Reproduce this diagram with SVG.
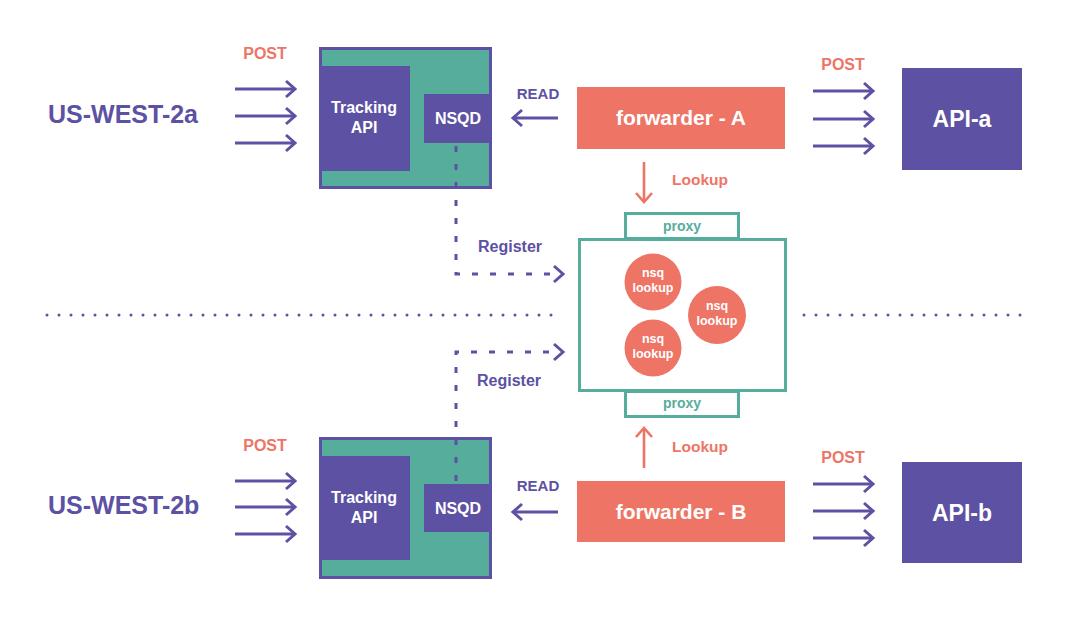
<svg xmlns="http://www.w3.org/2000/svg" width="1080" height="623" viewBox="0 0 1080 623">
<defs>
<style>
.pu{fill:#5d51a3}
.te{fill:#57ad9c}
.sa{fill:#ee7566}
text{font-family:"Liberation Sans",Arial,sans-serif;font-weight:bold}
.wt{fill:#fff}
.tp{fill:#5d51a3}
.ts{fill:#ee7566}
.tt{fill:#57ad9c}
.ap{stroke:#5d51a3;stroke-width:3;fill:none;marker-end:url(#hp)}
.as{stroke:#ee7566;stroke-width:2.6;fill:none;marker-end:url(#hs)}
.dash{stroke:#5d51a3;stroke-width:3;fill:none;stroke-dasharray:6 12;marker-end:url(#hp)}
.dot{stroke:#5d51a3;stroke-width:3;stroke-linecap:round;stroke-dasharray:0 12}
</style>
<marker id="hp" markerUnits="userSpaceOnUse" markerWidth="20" markerHeight="20" refX="14" refY="10" orient="auto">
<polyline points="5,2 14,10 5,18" fill="none" stroke="#5d51a3" stroke-width="3" stroke-dasharray="none"/>
</marker>
<marker id="hs" markerUnits="userSpaceOnUse" markerWidth="20" markerHeight="20" refX="14" refY="10" orient="auto">
<polyline points="5,2 14,10 5,18" fill="none" stroke="#ee7566" stroke-width="2.6" stroke-dasharray="none"/>
</marker>
</defs>
<rect width="1080" height="623" fill="#fff"/>

<g id="separator">
<line class="dot" x1="47" y1="315" x2="563" y2="315"/>
<line class="dot" x1="804" y1="315" x2="1030" y2="315"/>
</g>

<g id="region-a"><text class="tp" x="48" y="123" font-size="25">US-WEST-2a</text></g>
<g id="region-b"><text class="tp" x="48" y="514" font-size="25">US-WEST-2b</text></g>

<g id="tracking-a">
<rect x="320.5" y="48.5" width="170" height="139" class="te" stroke="#5d51a3" stroke-width="3"/>
<rect x="319" y="66" width="91" height="105" class="pu"/>
<text class="wt" x="364" y="113" font-size="16" text-anchor="middle">Tracking</text>
<text class="wt" x="364" y="133" font-size="16" text-anchor="middle">API</text>
</g>
<g id="nsqd-a">
<rect x="424" y="94" width="68" height="49" class="pu"/>
<text class="wt" x="458" y="124" font-size="16" text-anchor="middle">NSQD</text>
</g>

<g id="tracking-b">
<rect x="320.5" y="438.5" width="170" height="139" class="te" stroke="#5d51a3" stroke-width="3"/>
<rect x="319" y="456" width="91" height="104" class="pu"/>
<text class="wt" x="364" y="503" font-size="16" text-anchor="middle">Tracking</text>
<text class="wt" x="364" y="523" font-size="16" text-anchor="middle">API</text>
</g>
<g id="nsqd-b">
<rect x="424" y="484" width="68" height="48" class="pu"/>
<text class="wt" x="458" y="514" font-size="16" text-anchor="middle">NSQD</text>
</g>

<g id="forwarder-a">
<rect x="577" y="87" width="208" height="62" class="sa"/>
<text class="wt" x="681" y="125" font-size="21" text-anchor="middle">forwarder - A</text>
</g>
<g id="forwarder-b">
<rect x="577" y="481" width="208" height="61" class="sa"/>
<text class="wt" x="681" y="519" font-size="21" text-anchor="middle">forwarder - B</text>
</g>

<g id="api-a">
<rect x="902" y="68" width="120" height="102" class="pu"/>
<text class="wt" x="962" y="127" font-size="23" text-anchor="middle">API-a</text>
</g>
<g id="api-b">
<rect x="902" y="462" width="120" height="101" class="pu"/>
<text class="wt" x="962" y="521" font-size="23" text-anchor="middle">API-b</text>
</g>

<g id="nsqlookup-cluster">
<rect x="625.5" y="213.5" width="113" height="25" fill="#fff" stroke="#57ad9c" stroke-width="3"/>
<rect x="625.5" y="391.5" width="113" height="25" fill="#fff" stroke="#57ad9c" stroke-width="3"/>
<rect x="579.5" y="239.5" width="206" height="151" fill="#fff" stroke="#57ad9c" stroke-width="3"/>
<text class="tt" x="682" y="231" font-size="14" text-anchor="middle">proxy</text>
<text class="tt" x="682" y="408" font-size="14" text-anchor="middle">proxy</text>
</g>
<g id="lookup-1">
<circle cx="653" cy="282" r="28.5" class="sa"/>
<text class="wt" x="653" y="277" font-size="12.5" text-anchor="middle">nsq</text>
<text class="wt" x="653" y="292" font-size="12.5" text-anchor="middle">lookup</text>
</g>
<g id="lookup-2">
<circle cx="717" cy="315" r="29" class="sa"/>
<text class="wt" x="717" y="310" font-size="12.5" text-anchor="middle">nsq</text>
<text class="wt" x="717" y="325" font-size="12.5" text-anchor="middle">lookup</text>
</g>
<g id="lookup-3">
<circle cx="653" cy="348" r="28.5" class="sa"/>
<text class="wt" x="653" y="343" font-size="12.5" text-anchor="middle">nsq</text>
<text class="wt" x="653" y="358" font-size="12.5" text-anchor="middle">lookup</text>
</g>

<g id="connectors">
<line class="ap" x1="235" y1="89" x2="295" y2="89"/>
<line class="ap" x1="235" y1="116" x2="295" y2="116"/>
<line class="ap" x1="235" y1="143" x2="295" y2="143"/>
<line class="ap" x1="235" y1="481" x2="295" y2="481"/>
<line class="ap" x1="235" y1="507" x2="295" y2="507"/>
<line class="ap" x1="235" y1="534" x2="295" y2="534"/>
<line class="ap" x1="813" y1="91" x2="873" y2="91"/>
<line class="ap" x1="813" y1="119" x2="873" y2="119"/>
<line class="ap" x1="813" y1="146" x2="873" y2="146"/>
<line class="ap" x1="813" y1="484" x2="873" y2="484"/>
<line class="ap" x1="813" y1="511" x2="873" y2="511"/>
<line class="ap" x1="813" y1="538" x2="873" y2="538"/>
<line class="ap" x1="558" y1="118" x2="513" y2="118"/>
<line class="ap" x1="558" y1="512" x2="513" y2="512"/>
<line class="as" x1="644" y1="162" x2="644" y2="202"/>
<line class="as" x1="644" y1="468" x2="644" y2="428"/>
<path class="dash" d="M456,146 V274 H563" stroke-dasharray="5 13"/>
<path class="dash" d="M456,481 V352 H563" stroke-dasharray="5 13"/>
</g>

<g id="labels">
<text class="ts" x="265" y="59" font-size="16" text-anchor="middle">POST</text>
<text class="ts" x="265" y="451" font-size="16" text-anchor="middle">POST</text>
<text class="ts" x="843" y="70" font-size="16" text-anchor="middle">POST</text>
<text class="ts" x="843" y="463" font-size="16" text-anchor="middle">POST</text>
<text class="tp" x="538" y="99" font-size="15" text-anchor="middle">READ</text>
<text class="tp" x="538" y="491" font-size="15" text-anchor="middle">READ</text>
<text class="ts" x="672" y="185" font-size="15.5">Lookup</text>
<text class="ts" x="672" y="452" font-size="15.5">Lookup</text>
<text class="tp" x="510" y="252" font-size="16" text-anchor="middle">Register</text>
<text class="tp" x="509" y="386" font-size="16" text-anchor="middle">Register</text>
</g>
</svg>
